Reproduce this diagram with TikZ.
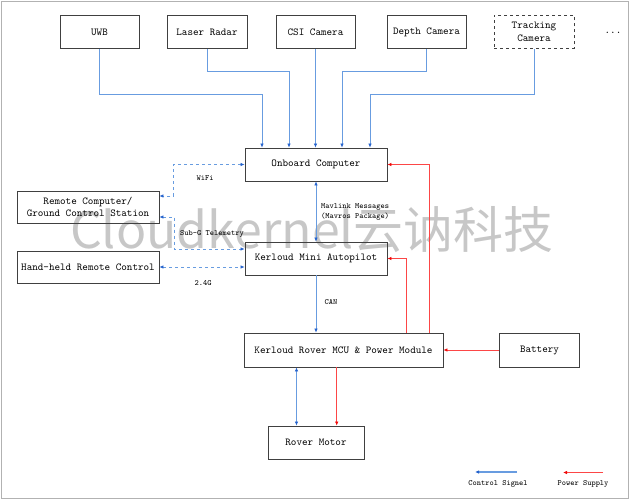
\documentclass[tikz,border=0pt]{standalone}
\usepackage{fontspec}
\newfontfamily\cjk{Noto Sans CJK SC}
\usepackage{xcolor}
\usepackage{tikz}
\usetikzlibrary{positioning}
\usetikzlibrary{calc}
\usetikzlibrary{arrows.meta}

\definecolor{sigblue}{RGB}{104,156,224}
\definecolor{tipblue}{RGB}{36,98,204}
\definecolor{pwrred}{RGB}{252,70,70}
\definecolor{tipred}{RGB}{240,10,10}

\begin{document}
\begin{tikzpicture}[x=1pt,y=-1pt,
    box/.style={draw=black!75,line width=0.8pt,minimum height=33pt,inner sep=0pt,font=\ttfamily\fontsize{10.6}{12.5}\selectfont,align=center},
    lbl/.style={inner sep=0pt,font=\ttfamily\fontsize{8}{9.5}\selectfont},
    ctrl/.style={draw=sigblue,line width=0.7pt,-{Latex[length=4pt,width=3.5pt,color=tipblue]}},
    pwr/.style={draw=pwrred,line width=0.7pt,-{Latex[length=4pt,width=3.5pt,color=tipred]}},
    both/.style={{Latex[length=4pt,width=3.5pt,color=tipblue]}-{Latex[length=4pt,width=3.5pt,color=tipblue]}},
    wmark/.style={inner sep=0pt,text=black!22,font=\cjk\fontsize{50}{50}\selectfont}]
    \useasboundingbox (0,0) rectangle (629,500);
    \draw[black!30] (1,1) rectangle (628,498);

    \node[wmark] (wm) at (312,230) {Cloudkernel云讷科技};

    % sensors
    \node[box,minimum width=79pt] (uwb)   at ( 99.5,32) {UWB};
    \node[box,minimum width=80pt] (laser) at (207,  32) {Laser Radar};
    \node[box,minimum width=79pt] (csi)   at (315.5,32) {CSI Camera};
    \node[box,minimum width=79pt] (depth) at (426.5,32) {Depth Camera};
    \node[box,minimum width=80pt,dashed] (track) at (534,32) {Tracking\\Camera};
    \node[lbl,font=\ttfamily\fontsize{10.6}{12.5}\selectfont] (more) at (613,33) {...};

    \node[box,minimum width=142pt] (onboard)   at (316,164.5) {Onboard Computer};
    \node[box,minimum width=142pt,minimum height=32pt] (remote)   at (88,207) {Remote Computer/\\Ground Control Station};
    \node[box,minimum width=142pt,minimum height=32pt] (handheld) at (88,267) {Hand-held Remote Control};
    \node[box,minimum width=142pt] (autopilot) at (316,258.5) {Kerloud Mini Autopilot};

    \node[box,minimum width=199pt,minimum height=34pt] (mcu)     at (343.5,350) {Kerloud Rover MCU \& Power Module};
    \node[box,minimum width=80pt,minimum height=34pt]  (battery) at (539.5,350) {Battery};
    \node[box,minimum width=96pt] (motor) at (316,442.5) {Rover Motor};

    % sensor links
    \draw[ctrl] (uwb.south)   -- ++(0,45) -| ([xshift=-54pt]onboard.north);
    \draw[ctrl] (laser.south) -- ++(0,22) -| ([xshift=-27pt]onboard.north);
    \draw[ctrl] (csi.south)   -- (csi.south |- onboard.north);
    \draw[ctrl] (depth.south) -- ++(0,22) -| ([xshift=26pt]onboard.north);
    \draw[ctrl] (track.south) -- ++(0,45) -| ([xshift=54pt]onboard.north);

    % radio links
    \draw[ctrl,both,dashed] (onboard.west) -- ++(-71,0) |- ([yshift=11pt]remote.east);
    \draw[ctrl,both,dashed] ([yshift=-10pt]remote.east) -- ++(15,0) |- ([yshift=9.5pt]autopilot.west);
    \draw[ctrl,both,dashed] (handheld.east) -- (handheld.east -| autopilot.west);

    \node[lbl] (wifi) at (205,178) {WiFi};
    \node[lbl] (subg) at (212,234) {Sub-G Telemetry};
    \node[lbl] (ghz)  at (203,283) {2.4G};

    % autopilot chain
    \draw[ctrl,both] (onboard.south) -- (autopilot.north);
    \node[lbl,anchor=west,align=left] (mav) at (321,212) {Mavlink Messages\\(Mavros Package)};
    \draw[ctrl] (autopilot.south) -- (autopilot.south |- mcu.north);
    \node[lbl] (can) at (331,302) {CAN};

    % power
    \draw[pwr] (battery.west) -- (mcu.east);
    \draw[pwr] ([xshift=85.5pt]mcu.north) |- (onboard.east);
    \draw[pwr] ([xshift=62.5pt]mcu.north) |- (autopilot.east);

    \draw[ctrl,both] ([xshift=-19.5pt]motor.north |- mcu.south) -- ([xshift=-19.5pt]motor.north);
    \draw[pwr] ([xshift=20.7pt]motor.north |- mcu.south) -- ([xshift=20.7pt]motor.north);

    % legend
    \coordinate (cs1) at (517,472);
    \coordinate (cs0) at (475,472);
    \coordinate (ps1) at (603,472.5);
    \coordinate (ps0) at (563,472.5);
    \draw[ctrl,line width=1.5pt] (cs1) -- (cs0);
    \draw[pwr,line width=1.5pt] (ps1) -- (ps0);
    \node[lbl] (csig) at (498,484) {Control Signel};
    \node[lbl] (psup) at (583,484) {Power Supply};
\end{tikzpicture}
\end{document}
